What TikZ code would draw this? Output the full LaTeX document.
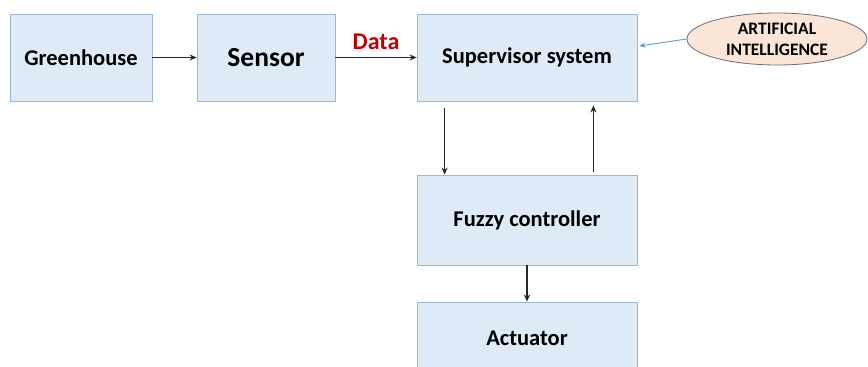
\documentclass[tikz,border=0pt]{standalone}
\usepackage{fontspec}
\setmainfont{Carlito}
\usetikzlibrary{shapes.geometric,arrows.meta}

\definecolor{boxfill}{RGB}{222,234,246}
\definecolor{boxline}{RGB}{157,183,214}
\definecolor{aifill}{RGB}{251,229,214}
\definecolor{ailine}{RGB}{110,110,110}
\definecolor{aiblue}{RGB}{91,155,213}
\definecolor{datared}{RGB}{192,0,0}

\tikzset{
  block/.style={draw=boxline, fill=boxfill, line width=0.8pt, minimum width=#1,
    minimum height=87pt, inner sep=0pt, font=\fontsize{22.5}{27}\selectfont\bfseries},
  flow/.style={-{Stealth[length=7pt,width=6pt]}, line width=1.4pt, black!85},
}

\begin{document}
\begin{tikzpicture}[x=1pt,y=-1pt]
\clip (0,0) rectangle (868,367);

%top row
\node[block=142] (greenhouse) at (81,57.5) {Greenhouse};
\node[block=138, font=\fontsize{27.5}{32}\selectfont\bfseries] (sensor) at (266,57.5) {Sensor};
\node[block=220] (supervisor) at (527,57.5) {Supervisor system};

%ai ellipse
\node[ellipse, draw=ailine, fill=aifill, line width=0.8pt, minimum width=180pt,
  minimum height=52pt, inner sep=0pt, align=center,
  font=\fontsize{17.5}{21}\selectfont\bfseries] (ai) at (777,39) {ARTIFICIAL\\INTELLIGENCE};

%lower column
\node[block=220, minimum height=90pt] (fuzzy) at (527,220) {Fuzzy controller};
\node[block=220, minimum height=72pt] (actuator) at (527,338) {Actuator};

%arrows
\draw[flow] (greenhouse) -- (sensor);
\draw[flow] (sensor) -- node[above=4pt, text=datared, font=\fontsize{24}{28}\selectfont\bfseries] (data) {Data} (supervisor);
\draw[-{Stealth[length=6pt,width=5pt]}, line width=0.9pt, aiblue] (ai.west) -- ([xshift=2pt,yshift=11.5pt]supervisor.east);

\draw[flow] ([xshift=28pt,yshift=-7pt]supervisor.south west) -- ([xshift=28pt]fuzzy.north west);
\draw[flow] ([xshift=-44pt,yshift=3pt]fuzzy.north east) -- ([xshift=-44pt,yshift=-4pt]supervisor.south east);
\draw[flow] (fuzzy) -- (actuator);

\end{tikzpicture}
\end{document}
